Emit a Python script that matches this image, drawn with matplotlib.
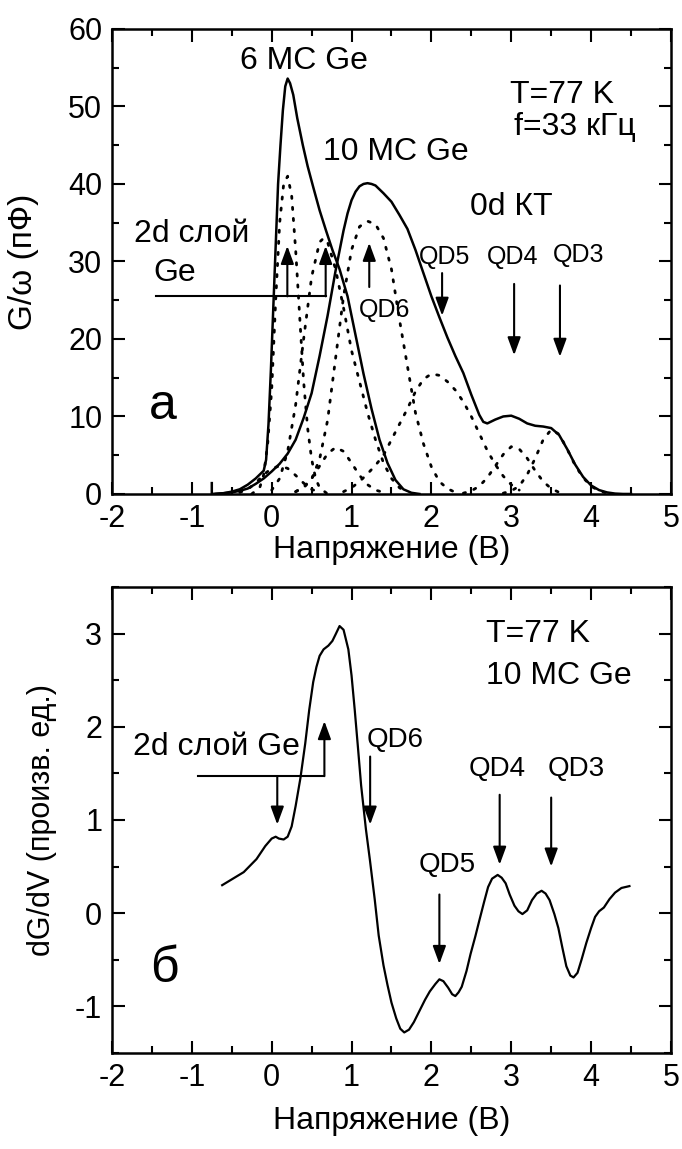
import matplotlib
matplotlib.use("Agg")
from matplotlib import pyplot as plt
from matplotlib.ticker import MultipleLocator

plt.rcParams['font.family'] = ['Liberation Sans', 'DejaVu Sans']
plt.rcParams['axes.unicode_minus'] = False

# --- panel a: G/omega vs voltage ---
# 6 ML Ge sample (solid)
v_6ml = [-0.70, -0.60, -0.50, -0.40, -0.30, -0.20, -0.14, -0.10, -0.07, -0.04,
         -0.01, 0.02, 0.05, 0.08, 0.11, 0.14, 0.17, 0.20, 0.23, 0.27, 0.32,
         0.39, 0.45, 0.52, 0.60, 0.68, 0.76, 0.85, 0.95, 1.05, 1.15, 1.25,
         1.35, 1.45, 1.55, 1.65, 1.75, 1.85]
g_6ml = [0.0, 0.1, 0.3, 0.6, 1.2, 2.0, 2.6, 3.0, 4.4, 9.0,
         16.0, 24.0, 32.0, 40.0, 45.0, 49.5, 52.6, 53.6, 53.0, 51.5, 48.5,
         45.0, 42.3, 39.6, 36.6, 34.0, 31.5, 29.0, 25.5, 20.5, 15.5, 11.0,
         7.0, 4.0, 1.8, 0.6, 0.15, 0.0]

# 10 ML Ge sample (solid)
v_10ml = [-0.75, -0.75, -0.60, -0.50, -0.40, -0.30, -0.20, -0.10, 0.0, 0.1, 0.2,
          0.3, 0.4, 0.5, 0.6, 0.7, 0.8, 0.9, 0.95, 1.0, 1.05, 1.1, 1.15, 1.2,
          1.25, 1.3, 1.35, 1.4, 1.5,
          1.6, 1.7, 1.8, 1.9, 2.0, 2.1, 2.2, 2.3, 2.4, 2.5, 2.6, 2.65, 2.7, 2.8,
          2.9, 3.0, 3.1, 3.2, 3.3, 3.4, 3.5, 3.6, 3.7, 3.8, 3.9, 4.0, 4.1,
          4.2, 4.3, 4.4, 4.5]
g_10ml = [1.4, 0.0, 0.1, 0.2, 0.4, 0.7, 1.3, 2.0, 2.9, 3.9, 5.2,
          7.0, 9.8, 13.0, 17.8, 23.0, 28.8, 34.0, 36.2, 37.9, 39.0, 39.7, 40.0, 40.1,
          40.0, 39.8, 39.3, 38.8, 37.7,
          36.0, 34.2, 31.5, 28.5, 25.5, 22.8, 20.2, 17.8, 15.6, 12.8, 10.2, 9.3, 9.1, 9.6,
          10.0, 10.1, 9.7, 9.1, 8.8, 8.7, 8.5, 7.6, 5.8, 3.8, 2.2, 1.1, 0.5,
          0.2, 0.05, 0.0, 0.0]

# gaussian components of the fit (dotted)
fit_wl1_v = [-0.25, -0.15, -0.10, -0.05, 0.0, 0.05, 0.10, 0.15, 0.20, 0.25,
             0.30, 0.35, 0.40, 0.45, 0.50, 0.55, 0.60, 0.70]
fit_wl1_g = [0.0, 0.8, 2.5, 6.5, 13.5, 25.0, 35.0, 40.0, 41.0, 38.5,
             31.5, 23.0, 14.5, 8.5, 4.5, 2.0, 0.8, 0.0]

fit_wl2_v = [0.0, 0.1, 0.2, 0.3, 0.4, 0.5, 0.6, 0.65, 0.7, 0.8, 0.9, 1.0,
             1.1, 1.2, 1.3, 1.4, 1.5, 1.6, 1.7]
fit_wl2_g = [0.5, 2.0, 5.5, 11.5, 20.0, 28.0, 32.5, 33.0, 32.5, 29.0, 24.0, 18.5,
             14.5, 10.5, 7.0, 4.0, 2.0, 0.8, 0.2]

fit_wl3_v = [-0.4, -0.3, -0.2, -0.1, 0.0, 0.1, 0.2, 0.3, 0.4, 0.5, 0.6]
fit_wl3_g = [0.2, 0.6, 1.4, 2.5, 3.3, 3.6, 3.3, 2.4, 1.4, 0.6, 0.2]

fit_wl4_v = [0.3, 0.4, 0.5, 0.6, 0.7, 0.8, 0.9, 1.0, 1.1, 1.2, 1.3, 1.4]
fit_wl4_g = [0.3, 0.9, 2.0, 3.6, 5.2, 6.0, 5.5, 4.0, 2.4, 1.2, 0.5, 0.2]

fit_qd6_v = [0.3, 0.4, 0.5, 0.6, 0.7, 0.8, 0.9, 1.0, 1.1, 1.2, 1.3, 1.4,
             1.5, 1.6, 1.7, 1.8, 1.9, 2.0, 2.1, 2.2, 2.3]
fit_qd6_g = [0.3, 0.8, 1.9, 4.5, 9.5, 17.5, 25.5, 31.5, 34.5, 35.2, 34.8, 33.0,
             29.0, 22.5, 16.5, 10.5, 6.5, 3.5, 1.6, 0.7, 0.2]

fit_qd5_v = [0.9, 1.0, 1.1, 1.2, 1.3, 1.4, 1.5, 1.6, 1.7, 1.8, 1.9, 2.0,
             2.1, 2.2, 2.3, 2.4, 2.5, 2.6, 2.7, 2.8, 2.9, 3.0, 3.1]
fit_qd5_g = [0.3, 0.8, 1.6, 2.6, 3.7, 5.0, 7.0, 9.0, 11.0, 13.2, 14.8, 15.5,
             15.3, 14.5, 13.4, 11.9, 10.0, 7.8, 5.6, 3.8, 2.3, 1.2, 0.5]

fit_qd4_v = [2.4, 2.5, 2.6, 2.7, 2.8, 2.9, 3.0, 3.1, 3.2, 3.3, 3.4, 3.5, 3.6]
fit_qd4_g = [0.1, 0.4, 1.0, 2.1, 3.6, 5.1, 6.1, 5.8, 4.6, 3.0, 1.6, 0.7, 0.2]

fit_qd3_v = [2.9, 3.0, 3.1, 3.2, 3.3, 3.4, 3.5, 3.6, 3.7, 3.8, 3.9, 4.0, 4.1, 4.2]
fit_qd3_g = [0.1, 0.4, 1.0, 2.5, 4.6, 7.0, 8.3, 7.7, 5.8, 3.7, 2.1, 1.0, 0.4, 0.1]

# --- panel b: dG/dV of the 10 ML sample ---
v_deriv = [-0.62, -0.35, -0.19, -0.08, 0.0, 0.05, 0.09, 0.15, 0.20, 0.25,
           0.30, 0.36, 0.42, 0.47, 0.52, 0.56, 0.60, 0.65, 0.71, 0.76, 0.80,
           0.85, 0.90, 0.96, 1.00, 1.04, 1.08, 1.12, 1.18, 1.23, 1.29, 1.34,
           1.40, 1.45, 1.50, 1.56, 1.61, 1.66, 1.72, 1.78, 1.85, 1.92, 1.98,
           2.05, 2.10, 2.15, 2.21, 2.26, 2.30, 2.34, 2.38, 2.44, 2.49, 2.55,
           2.60, 2.66, 2.71, 2.76, 2.83, 2.88, 2.93, 2.98, 3.04, 3.09, 3.14,
           3.20, 3.26, 3.32, 3.38, 3.43, 3.48, 3.54, 3.59, 3.64, 3.69, 3.74,
           3.78, 3.83, 3.88, 3.94, 4.00, 4.05, 4.10, 4.16, 4.23, 4.30, 4.38,
           4.48]
dgdv = [0.30, 0.44, 0.58, 0.72, 0.80, 0.82, 0.80, 0.79, 0.82, 0.93,
        1.15, 1.45, 1.82, 2.18, 2.48, 2.64, 2.76, 2.83, 2.87, 2.92, 2.99,
        3.08, 3.04, 2.83, 2.55, 2.18, 1.78, 1.37, 0.90, 0.57, 0.15, -0.24,
        -0.56, -0.77, -0.96, -1.13, -1.24, -1.28, -1.25, -1.17, -1.05, -0.93, -0.84,
        -0.76, -0.71, -0.73, -0.80, -0.87, -0.89, -0.85, -0.79, -0.62, -0.44, -0.25,
        -0.08, 0.12, 0.28, 0.37, 0.41, 0.38, 0.32, 0.20, 0.08, 0.02, -0.01,
        0.03, 0.14, 0.21, 0.24, 0.21, 0.14, -0.01, -0.16, -0.37, -0.57, -0.67,
        -0.69, -0.64, -0.50, -0.32, -0.16, -0.04, 0.02, 0.06, 0.15, 0.22, 0.27,
        0.29]

xticks_v = [-2, -1, 0, 1, 2, 3, 4, 5]

TICK_FS = 22
LABEL_FS = 23
NOTE_FS = 23
QD_FS = 18


def style_axes(ax, ymajor, yminor):
    ax.set_xlim(-2, 5)
    ax.xaxis.set_major_locator(MultipleLocator(1))
    ax.xaxis.set_minor_locator(MultipleLocator(0.5))
    ax.yaxis.set_major_locator(MultipleLocator(ymajor))
    ax.yaxis.set_minor_locator(MultipleLocator(yminor))
    ax.tick_params(which='both', direction='in', top=True, right=True,
                   width=1.5, labelsize=TICK_FS, pad=7)
    ax.tick_params(which='major', length=9)
    ax.tick_params(which='minor', length=5)
    for s in ax.spines.values():
        s.set_linewidth(1.8)


def arrow(ax, x0, y0, x1, y1):
    ax.annotate('', xy=(x1, y1), xytext=(x0, y0),
                arrowprops=dict(arrowstyle='-|>,head_length=0.6,head_width=0.22',
                                color='black', lw=1.5, mutation_scale=18,
                                shrinkA=0, shrinkB=0))


fig = plt.figure(figsize=(6.82, 11.49), dpi=100)

# ---------------- panel a ----------------
ax1 = fig.add_axes([0.1642, 0.5701, 0.8196, 0.4047])
dot = dict(color='black', lw=2.0, linestyle=(0, (0.8, 3.2)), dash_capstyle='round')
for vx, gy in [(fit_wl1_v, fit_wl1_g), (fit_wl2_v, fit_wl2_g), (fit_wl3_v, fit_wl3_g),
               (fit_wl4_v, fit_wl4_g), (fit_qd6_v, fit_qd6_g), (fit_qd5_v, fit_qd5_g),
               (fit_qd4_v, fit_qd4_g), (fit_qd3_v, fit_qd3_g)]:
    ax1.plot(vx, gy, **dot)
ax1.plot(v_6ml, g_6ml, color='black', lw=1.8)
ax1.plot(v_10ml, g_10ml, color='black', lw=1.8)
ax1.set_ylim(0, 60)
style_axes(ax1, 10, 5)
ax1.set_xticks(xticks_v)
ax1.set_xlabel('Напряжение (В)', fontsize=LABEL_FS)
ax1.set_ylabel('G/ω (пФ)', fontsize=LABEL_FS + 1)
ax1.xaxis.set_label_coords(0.5, -0.088)
ax1.yaxis.set_label_coords(-0.13, 0.5)

ax1.text(0.40, 55.9, '6 МС Ge', fontsize=NOTE_FS, ha='center', va='center')
ax1.text(1.56, 44.1, '10 МС Ge', fontsize=NOTE_FS, ha='center', va='center')
ax1.text(2.98, 51.5, 'T=77 K', fontsize=NOTE_FS, ha='left', va='center')
ax1.text(3.04, 47.4, 'f=33 кГц', fontsize=NOTE_FS, ha='left', va='center')
ax1.text(3.0, 37.0, '0d КТ', fontsize=NOTE_FS, ha='center', va='center')
ax1.text(-1.0, 33.6, '2d слой', fontsize=NOTE_FS, ha='center', va='center')
ax1.text(-1.22, 28.5, 'Ge', fontsize=NOTE_FS, ha='center', va='center')
ax1.text(2.16, 30.6, 'QD5', fontsize=QD_FS, ha='center', va='center')
ax1.text(3.02, 30.6, 'QD4', fontsize=QD_FS, ha='center', va='center')
ax1.text(3.85, 30.8, 'QD3', fontsize=QD_FS, ha='center', va='center')
ax1.text(1.41, 23.7, 'QD6', fontsize=QD_FS, ha='center', va='center')
ax1.text(-1.36, 11.3, 'а', fontsize=36, ha='center', va='center')

ax1.plot([-1.45, 0.676], [25.5, 25.5], color='black', lw=1.5)
arrow(ax1, 0.196, 25.5, 0.196, 32.0)
arrow(ax1, 0.676, 25.5, 0.676, 32.0)
arrow(ax1, 1.222, 26.7, 1.222, 32.4)
arrow(ax1, 2.134, 28.5, 2.134, 23.0)
arrow(ax1, 3.036, 27.1, 3.036, 17.9)
arrow(ax1, 3.61, 26.9, 3.61, 17.7)

# ---------------- panel b ----------------
ax2 = fig.add_axes([0.1642, 0.0836, 0.8196, 0.4056])
ax2.plot(v_deriv, dgdv, color='black', lw=1.6)
ax2.set_ylim(-1.5, 3.5)
style_axes(ax2, 1, 0.5)
ax2.set_xticks(xticks_v)
ax2.set_yticks([-1, 0, 1, 2, 3])
ax2.set_xlabel('Напряжение (В)', fontsize=LABEL_FS)
ax2.set_ylabel('dG/dV (произв. ед.)', fontsize=LABEL_FS - 1)
ax2.xaxis.set_label_coords(0.5, -0.113)
ax2.yaxis.set_label_coords(-0.098, 0.5)

ax2.text(2.68, 2.99, 'T=77 K', fontsize=NOTE_FS, ha='left', va='center')
ax2.text(2.68, 2.54, '10 МС Ge', fontsize=NOTE_FS, ha='left', va='center')
ax2.text(-1.74, 1.78, '2d слой Ge', fontsize=NOTE_FS, ha='left', va='center')
ax2.text(1.55, 1.86, 'QD6', fontsize=QD_FS + 2, ha='center', va='center')
ax2.text(2.83, 1.55, 'QD4', fontsize=QD_FS + 2, ha='center', va='center')
ax2.text(3.81, 1.55, 'QD3', fontsize=QD_FS + 2, ha='center', va='center')
ax2.text(2.20, 0.52, 'QD5', fontsize=QD_FS + 2, ha='center', va='center')
ax2.text(-1.34, -0.6, 'б', fontsize=36, ha='center', va='center')

ax2.plot([-0.924, 0.66], [1.47, 1.47], color='black', lw=1.5)
arrow(ax2, 0.66, 1.47, 0.66, 2.06)
arrow(ax2, 0.07, 1.47, 0.07, 0.95)
arrow(ax2, 1.233, 1.68, 1.233, 0.95)
arrow(ax2, 2.10, 0.20, 2.10, -0.545)
arrow(ax2, 2.855, 1.27, 2.855, 0.52)
arrow(ax2, 3.50, 1.24, 3.50, 0.50)

fig.savefig('out.png', dpi=100)
